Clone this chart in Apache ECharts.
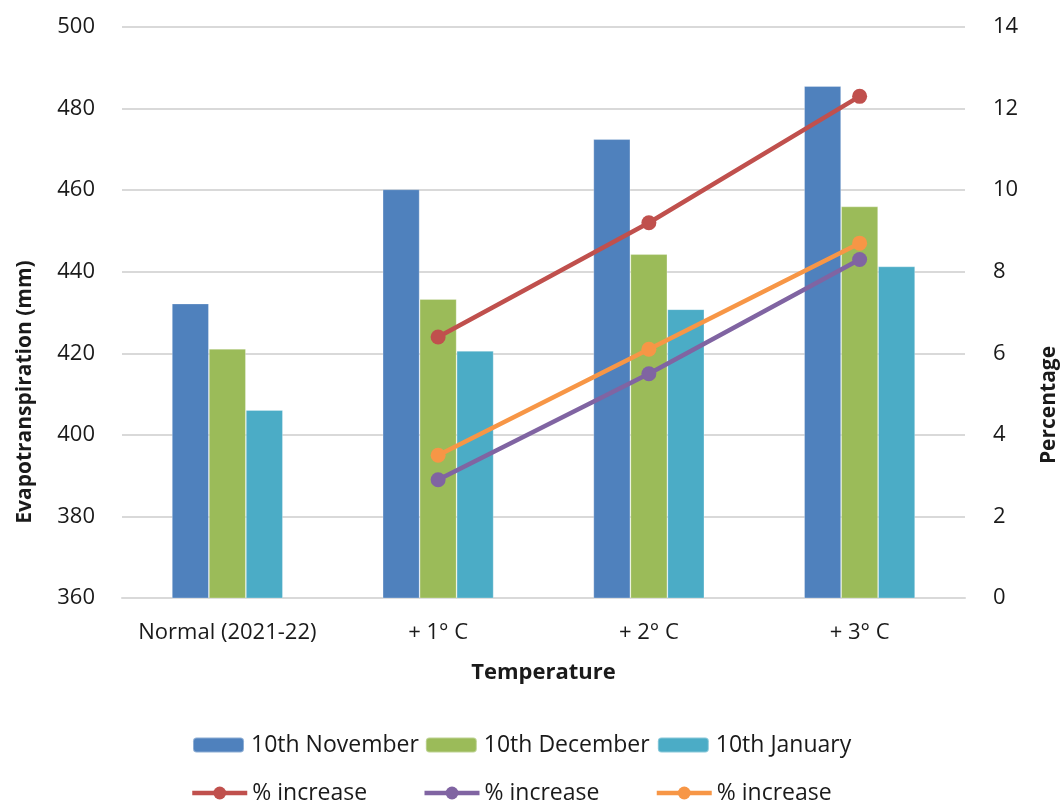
<!DOCTYPE html>
<html>
<head>
<meta charset="utf-8">
<title>Evapotranspiration by temperature scenario</title>
<script src="https://cdn.jsdelivr.net/npm/echarts@6/dist/echarts.min.js"></script>
<style>
  html, body { margin: 0; padding: 0; background: #ffffff; }
  #chart { width: 1062px; height: 805px; }
</style>
</head>
<body>
<div id="chart"></div>
<script>
// Temperature scenarios on the category axis
const categories = ['Normal (2021-22)', '+ 1\u00b0 C', '+ 2\u00b0 C', '+ 3\u00b0 C'];

// Evapotranspiration (mm) for each sowing date
const etNovember = [432.2, 460.2, 472.5, 485.5];
const etDecember = [421.1, 433.3, 444.3, 456.0];
const etJanuary  = [406.1, 420.6, 430.8, 441.3];

// Percentage increase over the normal year for each sowing date
const pctNovember = [null, 6.4, 9.2, 12.3];
const pctDecember = [null, 2.9, 5.5, 8.3];
const pctJanuary  = [null, 3.5, 6.1, 8.7];

// Axis ticks
const leftTicks = { min: 360, max: 500, interval: 20 };
const rightTicks = { min: 0, max: 14, interval: 2 };

const FONT = '"Open Sans", "Noto Sans", sans-serif';
const TEXT = '#1a1a1a';
const GRID = '#d9d9d9';

const chart = echarts.init(document.getElementById('chart'), null, { renderer: 'canvas' });

function barSeries(name, data, color) {
  return {
    name: name,
    type: 'bar',
    data: data,
    yAxisIndex: 0,
    barWidth: 37,
    barGap: '0%',
    itemStyle: { color: color, borderColor: 'rgba(255,255,255,0.35)', borderWidth: 0.8 },
    emphasis: { disabled: true },
    z: 2
  };
}

function lineSeries(name, data, color) {
  return {
    name: name,
    type: 'line',
    data: data,
    yAxisIndex: 1,
    symbol: 'circle',
    symbolSize: 15,
    showSymbol: true,
    lineStyle: { color: color, width: 4.5 },
    itemStyle: { color: color },
    emphasis: { disabled: true },
    z: 5
  };
}

const option = {
  backgroundColor: '#ffffff',
  animation: false,
  textStyle: { fontFamily: FONT },
  grid: { left: 122, right: 97, top: 27, bottom: 207, containLabel: false },
  legend: [
    {
      data: ['10th November', '10th December', '10th January'],
      left: 192,
      top: 732,
      padding: 0,
      itemWidth: 51,
      itemHeight: 15,
      itemGap: 6,
      selectedMode: false,
      textStyle: { fontFamily: FONT, fontSize: 23, color: TEXT, width: 167, lineHeight: 26, padding: [0, 0, 0, 2] }
    },
    {
      data: ['% increase (10th November)', '% increase (10th December)', '% increase (10th January)'],
      left: 190,
      top: 780,
      padding: 0,
      itemWidth: 55,
      itemHeight: 16,
      itemGap: 4,
      selectedMode: false,
      lineStyle: { width: 4.5 },
      formatter: function () { return '% increase'; },
      textStyle: { fontFamily: FONT, fontSize: 23, color: TEXT, width: 166, lineHeight: 26 }
    }
  ],
  xAxis: {
    type: 'category',
    data: categories,
    axisLine: { show: true, lineStyle: { color: GRID, width: 2 } },
    axisTick: { show: false },
    axisLabel: { color: TEXT, fontSize: 22, fontFamily: FONT, margin: 24, interval: 0 },
    name: 'Temperature',
    nameLocation: 'middle',
    nameGap: 64,
    nameTextStyle: { fontFamily: FONT, fontSize: 22, fontWeight: 'bold', color: TEXT }
  },
  yAxis: [
    {
      type: 'value',
      min: leftTicks.min,
      max: leftTicks.max,
      interval: leftTicks.interval,
      axisLine: { show: false },
      axisTick: { show: false },
      axisLabel: { color: TEXT, fontSize: 22, fontFamily: FONT, margin: 27 },
      splitLine: { show: true, lineStyle: { color: GRID, width: 2 } }
    },
    {
      type: 'value',
      min: rightTicks.min,
      max: rightTicks.max,
      interval: rightTicks.interval,
      position: 'right',
      axisLine: { show: false },
      axisTick: { show: false },
      axisLabel: { color: TEXT, fontSize: 22, fontFamily: FONT, margin: 28 },
      splitLine: { show: false }
    }
  ],
  graphic: [
    {
      type: 'text',
      x: 25,
      y: 392,
      rotation: Math.PI / 2,
      style: {
        text: 'Evapotranspiration (mm)',
        fontFamily: FONT,
        fontSize: 21,
        fontWeight: 'bold',
        fill: TEXT,
        textAlign: 'center',
        textVerticalAlign: 'middle'
      }
    },
    {
      type: 'text',
      x: 1049,
      y: 405,
      rotation: Math.PI / 2,
      style: {
        text: 'Percentage',
        fontFamily: FONT,
        fontSize: 21,
        fontWeight: 'bold',
        fill: TEXT,
        textAlign: 'center',
        textVerticalAlign: 'middle'
      }
    }
  ],
  series: [
    barSeries('10th November', etNovember, '#4f81bd'),
    barSeries('10th December', etDecember, '#9bbb59'),
    barSeries('10th January', etJanuary, '#4bacc6'),
    lineSeries('% increase (10th November)', pctNovember, '#c0504d'),
    lineSeries('% increase (10th December)', pctDecember, '#8064a2'),
    lineSeries('% increase (10th January)', pctJanuary, '#f79646')
  ]
};

chart.setOption(option);
</script>
</body>
</html>
